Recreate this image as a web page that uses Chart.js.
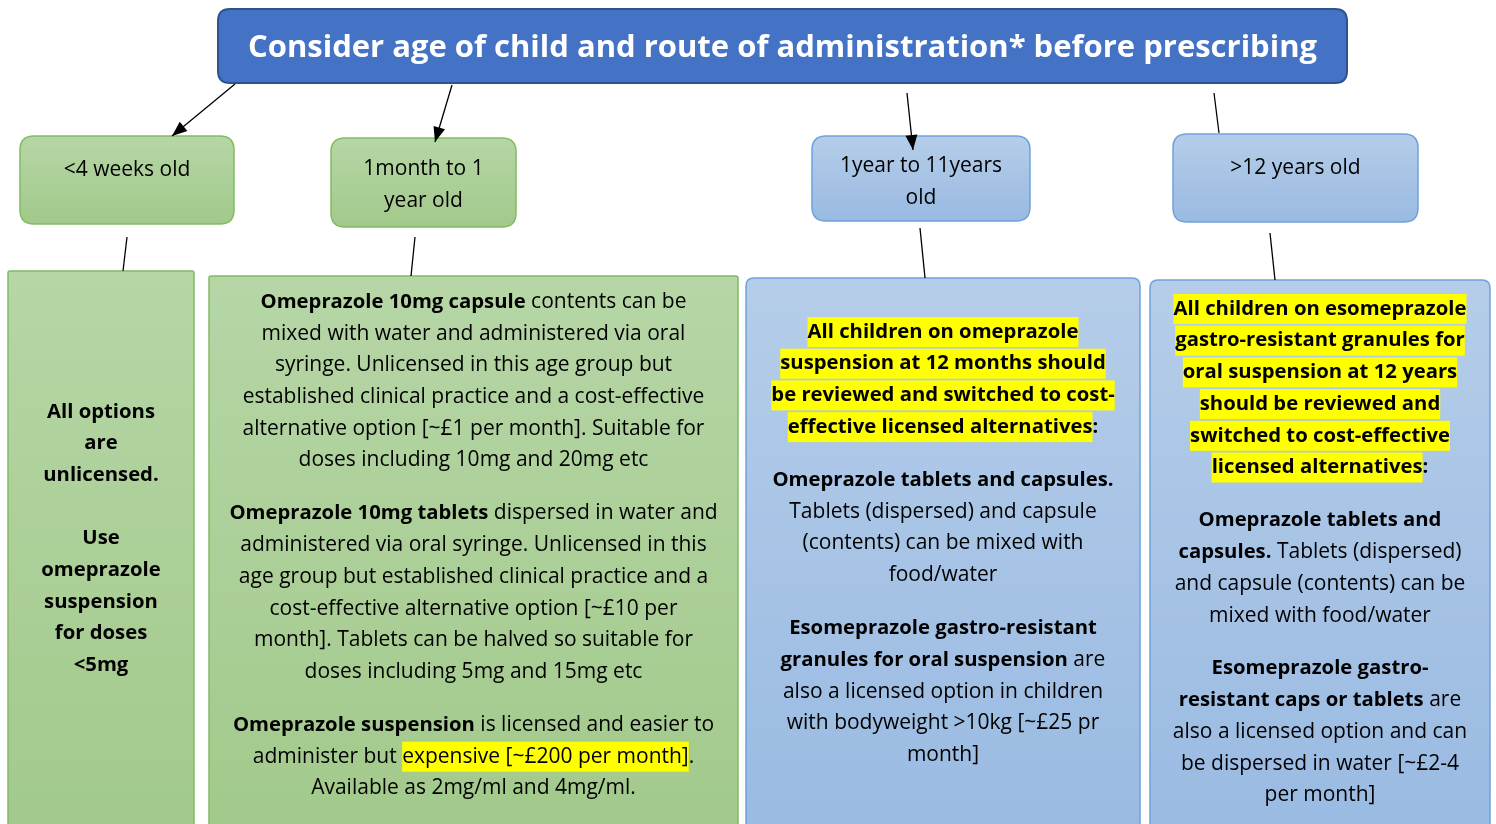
<!DOCTYPE html>
<html>
<head>
<meta charset="utf-8">
<script src="https://cdn.jsdelivr.net/npm/chart.js@4.4.1/dist/chart.umd.min.js"></script>
<style>
  html, body { margin: 0; padding: 0; background: #fff; }
  #wrap { width: 1496px; height: 824px; position: relative; }
</style>
</head>
<body>
<div id="wrap"><canvas id="flow"></canvas></div>
<script>
// text of the flowchart  (* toggles bold, ^ toggles yellow highlight)
const title = 'Consider age of child and route of administration* before prescribing'
const ageGroups = [
    ['<4 weeks old'],
    ['1month to 1', 'year old'],
    ['1year to 11years', 'old'],
    ['>12 years old']
]
const adviceNeonate = [
    '*All options*', '*are*', '*unlicensed.*', '',
    '*Use*', '*omeprazole*', '*suspension*', '*for doses*', '*<5mg*'
]
const adviceInfant = [
    '*Omeprazole 10mg capsule* contents can be',
    'mixed with water and administered via oral',
    'syringe. Unlicensed in this age group but',
    'established clinical practice and a cost-effective',
    'alternative option [~£1 per month]. Suitable for',
    'doses including 10mg and 20mg etc', '',
    '*Omeprazole 10mg tablets* dispersed in water and',
    'administered via oral syringe. Unlicensed in this',
    'age group but established clinical practice and a',
    'cost-effective alternative option [~£10 per',
    'month]. Tablets can be halved so suitable for',
    'doses including 5mg and 15mg etc', '',
    '*Omeprazole suspension* is licensed and easier to',
    'administer but ^expensive [~£200 per month]^.',
    'Available as 2mg/ml and 4mg/ml.'
]
const adviceChild = [
    '^*All children on omeprazole*^',
    '^*suspension at 12 months should*^',
    '^*be reviewed and switched to cost-*^',
    '^*effective licensed alternatives*^*:*', '',
    '*Omeprazole tablets and capsules.*',
    'Tablets (dispersed) and capsule',
    '(contents) can be mixed with',
    'food/water', '',
    '*Esomeprazole gastro-resistant*',
    '*granules for oral suspension* are',
    'also a licensed option in children',
    'with bodyweight >10kg [~£25 pr',
    'month]'
]
const adviceTeen = [
    '^*All children on esomeprazole*^',
    '^*gastro-resistant granules for*^',
    '^*oral suspension at 12 years*^',
    '^*should be reviewed and*^',
    '^*switched to cost-effective*^',
    '^*licensed alternatives*^*:*', '',
    '*Omeprazole tablets and*',
    '*capsules.* Tablets (dispersed)',
    'and capsule (contents) can be',
    'mixed with food/water', '',
    '*Esomeprazole gastro-*',
    '*resistant caps or tablets* are',
    'also a licensed option and can',
    'be dispersed in water [~£2-4',
    'per month]'
]
const advice = [adviceNeonate, adviceInfant, adviceChild, adviceTeen]

// layout (canvas units)
const FONT = '"Open Sans"'
const REG_SIZE = 21
const BOLD_SIZE = 20.3
const LINE_H = 31.7
const titleBox = { x0: 218, x1: 1347, y0: 9, y1: 83 }
const ageBoxes = [
    { x0: 20, x1: 234, y0: 136, y1: 224, ty: 170, kind: 'green' },
    { x0: 331, x1: 516, y0: 138, y1: 227, ty: 169, kind: 'green' },
    { x0: 812, x1: 1030, y0: 136, y1: 221, ty: 166, kind: 'blue' },
    { x0: 1173, x1: 1418, y0: 134, y1: 222, ty: 168, kind: 'blue' }
]
const adviceBoxes = [
    { x0: 8, x1: 194, y0: 271, y1: 840, ty: 412, gap: 63, r: 2, kind: 'green' },
    { x0: 209, x1: 738, y0: 276, y1: 840, ty: 302, gap: 53, r: 2, kind: 'green' },
    { x0: 746, x1: 1140, y0: 278, y1: 840, ty: 332, gap: 53, r: 8, kind: 'blue' },
    { x0: 1150, x1: 1490, y0: 280, y1: 840, ty: 309, gap: 53, r: 8, kind: 'blue' }
]
const connectors = [
    { from: [235, 84], to: [172, 136], arrow: true },
    { from: [452, 85], to: [435, 142], arrow: true },
    { from: [907, 93], to: [913, 150], arrow: true },
    { from: [1214, 93], to: [1219, 133], arrow: false },
    { from: [127, 237], to: [123, 271], arrow: false },
    { from: [415, 237], to: [411, 276], arrow: false },
    { from: [920, 228], to: [925, 278], arrow: false },
    { from: [1270, 233], to: [1275, 280], arrow: false }
]
const palette = {
    green: { top: '#b6d6a6', bottom: '#a2c98b', border: '#82bb63' },
    blue: { top: '#b5cde9', bottom: '#99bae2', border: '#6ea2dc' }
}

function parseLine(line) {
    const segs = []
    let bold = false, hl = false, buf = ''
    for (const ch of line) {
        if (ch === '*' || ch === '^') {
            if (buf) segs.push({ text: buf, bold, hl })
            buf = ''
            if (ch === '*') bold = !bold
            else hl = !hl
        } else buf += ch
    }
    if (buf) segs.push({ text: buf, bold, hl })
    return segs
}

function roundRect(ctx, x0, y0, x1, y1, r) {
    ctx.beginPath()
    ctx.moveTo(x0 + r, y0)
    ctx.lineTo(x1 - r, y0)
    ctx.quadraticCurveTo(x1, y0, x1, y0 + r)
    ctx.lineTo(x1, y1 - r)
    ctx.quadraticCurveTo(x1, y1, x1 - r, y1)
    ctx.lineTo(x0 + r, y1)
    ctx.quadraticCurveTo(x0, y1, x0, y1 - r)
    ctx.lineTo(x0, y0 + r)
    ctx.quadraticCurveTo(x0, y0, x0 + r, y0)
    ctx.closePath()
}

function drawBox(ctx, sx, sy, b, r) {
    const x0 = sx(b.x0), x1 = sx(b.x1), y0 = sy(b.y0), y1 = sy(b.y1)
    const col = palette[b.kind]
    const grad = ctx.createLinearGradient(0, y0, 0, y1)
    grad.addColorStop(0, col.top)
    grad.addColorStop(1, col.bottom)
    roundRect(ctx, x0, y0, x1, y1, r)
    ctx.fillStyle = grad
    ctx.fill()
    ctx.lineWidth = 1.5
    ctx.strokeStyle = col.border
    ctx.stroke()
}

function fontFor(bold) {
    return bold ? 'bold ' + BOLD_SIZE + 'px ' + FONT : REG_SIZE + 'px ' + FONT
}

function drawRichLine(ctx, line, cx, cy) {
    const segs = parseLine(line)
    let total = 0
    segs.forEach(s => {
        ctx.font = fontFor(s.bold)
        s.w = ctx.measureText(s.text).width
        total += s.w
    })
    let x = cx - total / 2
    segs.forEach(s => {
        if (s.hl) {
            ctx.fillStyle = '#ffff00'
            ctx.fillRect(x, cy - 15, s.w, 30)
        }
        ctx.font = fontFor(s.bold)
        ctx.fillStyle = '#000'
        ctx.textAlign = 'left'
        ctx.textBaseline = 'middle'
        ctx.fillText(s.text, x, cy)
        x += s.w
    })
}

const flowPlugin = {
    id: 'flowBoxes',
    beforeDatasetsDraw(chart) {
        const ctx = chart.ctx
        const sx = v => chart.scales.x.getPixelForValue(v)
        const sy = v => chart.scales.y.getPixelForValue(v)
        ctx.save()

        // title box
        roundRect(ctx, sx(titleBox.x0), sy(titleBox.y0), sx(titleBox.x1), sy(titleBox.y1), 12)
        ctx.fillStyle = '#4472c4'
        ctx.fill()
        ctx.lineWidth = 2
        ctx.strokeStyle = '#2f528f'
        ctx.stroke()
        ctx.font = 'bold 31px ' + FONT
        ctx.fillStyle = '#fff'
        ctx.textAlign = 'center'
        ctx.textBaseline = 'middle'
        ctx.fillText(title, sx((titleBox.x0 + titleBox.x1) / 2), sy(48))

        ageBoxes.forEach((b, i) => {
            drawBox(ctx, sx, sy, b, 14)
            const cx = sx((b.x0 + b.x1) / 2)
            ageGroups[i].forEach((t, j) => drawRichLine(ctx, t, cx, sy(b.ty + j * LINE_H)))
        })

        adviceBoxes.forEach((b, i) => {
            drawBox(ctx, sx, sy, b, b.r)
            const cx = sx((b.x0 + b.x1) / 2)
            let y = b.ty
            advice[i].forEach(t => {
                if (t === '') { y += b.gap - LINE_H; return }
                drawRichLine(ctx, t, cx, sy(y))
                y += LINE_H
            })
        })
        ctx.restore()
    },
    afterDatasetsDraw(chart) {
        const ctx = chart.ctx
        ctx.save()
        ctx.fillStyle = '#000'
        chart.data.datasets.forEach((ds, i) => {
            if (!connectors[i].arrow) return
            const pts = chart.getDatasetMeta(i).data
            const a = pts[0], b = pts[1]
            const ang = Math.atan2(b.y - a.y, b.x - a.x)
            const len = 15, half = 6
            ctx.beginPath()
            ctx.moveTo(b.x, b.y)
            ctx.lineTo(b.x - len * Math.cos(ang) + half * Math.sin(ang), b.y - len * Math.sin(ang) - half * Math.cos(ang))
            ctx.lineTo(b.x - len * Math.cos(ang) - half * Math.sin(ang), b.y - len * Math.sin(ang) + half * Math.cos(ang))
            ctx.closePath()
            ctx.fill()
        })
        ctx.restore()
    }
}

const ctx = document.getElementById('flow').getContext('2d')
const flowChart = new Chart(ctx, {
    type: 'scatter',
    data: {
        datasets: connectors.map(c => ({
            data: [{ x: c.from[0], y: c.from[1] }, { x: c.to[0], y: c.to[1] }],
            showLine: true,
            borderColor: '#000',
            borderWidth: 1.3,
            pointRadius: 0,
            clip: false
        }))
    },
    options: {
        responsive: true,
        maintainAspectRatio: false,
        animation: false,
        layout: { padding: 0 },
        plugins: { legend: { display: false }, tooltip: { enabled: false } },
        scales: {
            x: { type: 'linear', min: 0, max: 1496, display: false },
            y: { type: 'linear', min: 0, max: 824, reverse: true, display: false }
        }
    },
    plugins: [flowPlugin]
})
</script>
</body>
</html>
